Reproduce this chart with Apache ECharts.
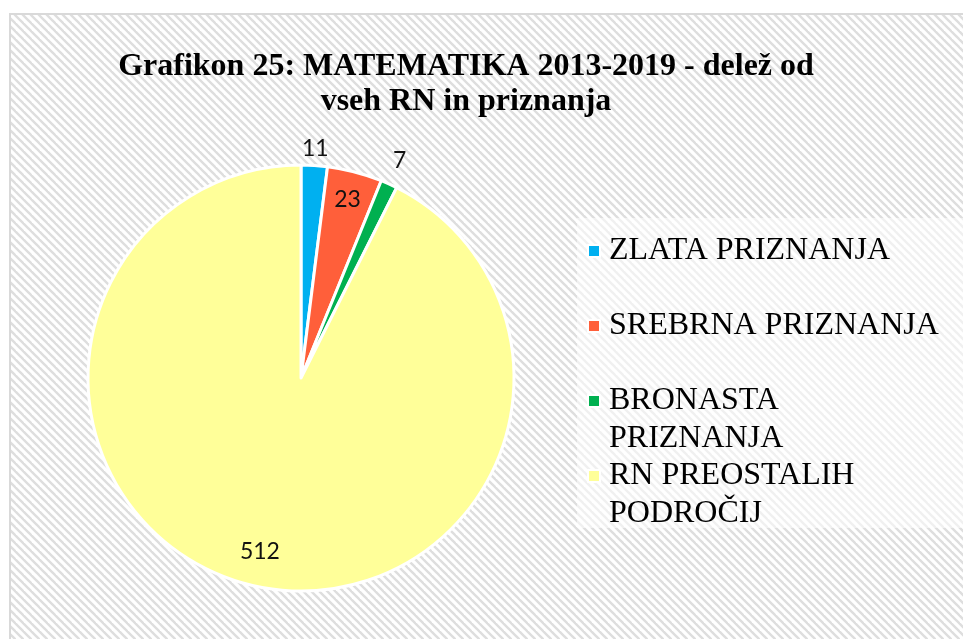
<!DOCTYPE html>
<html>
<head>
<meta charset="utf-8">
<title>Grafikon 25</title>
<script src="https://cdn.jsdelivr.net/npm/echarts@6/dist/echarts.min.js"></script>
<style>
  html, body { margin: 0; padding: 0; background: #fff; }
  #chart { width: 963px; height: 639px; }
</style>
</head>
<body>
<div id="chart"></div>
<script>
(function(window, document, undefined){

  // data
  var categories = ['ZLATA PRIZNANJA', 'SREBRNA PRIZNANJA', 'BRONASTA PRIZNANJA', 'RN PREOSTALIH PODROČIJ'];
  var values = [11, 23, 7, 512];
  var legendText = ['ZLATA PRIZNANJA', 'SREBRNA PRIZNANJA', 'BRONASTA\nPRIZNANJA', 'RN PREOSTALIH\nPODROČIJ'];

  var colors = ['#00B0F0', '#FF5F3A', '#00B050', '#FFFF99'];
  // how far each value label sits from the rim (negative = inside the slice)
  var labelReach = [17, -29, 26, -35];

  // diagonal hatch used by excel for the chart area
  function hatch() {
    var c = document.createElement('canvas');
    c.width = 8; c.height = 8;
    var ctx = c.getContext('2d');
    ctx.fillStyle = '#ffffff';
    ctx.fillRect(0, 0, 8, 8);
    ctx.strokeStyle = '#dedede';
    ctx.lineWidth = 2.4;
    for (var k = -8; k <= 8; k += 8) {
      ctx.beginPath();
      ctx.moveTo(-2, -2 + k);
      ctx.lineTo(10, 10 + k);
      ctx.stroke();
    }
    return c;
  }

  var pieData = categories.map(function(name, i){
    return {
      name: name,
      value: values[i],
      itemStyle: { color: colors[i] },
      labelLine: { length: labelReach[i] }
    };
  });

  // every legend entry is 3 lines tall so the icon (centred) lines up
  // with the first line of text, like excel does it
  function legendLabel(name) {
    var t = legendText[categories.indexOf(name)];
    return t.indexOf('\n') >= 0 ? '\n' + t : '\n' + t + '\n';
  }

  var option = {
    animation: false,
    backgroundColor: '#ffffff',
    graphic: [
      {
        type: 'rect',
        z: 0,
        shape: { x: 10, y: 14, width: 970, height: 640 },
        style: { fill: { image: hatch(), repeat: 'repeat' }, stroke: '#d9d9d9', lineWidth: 2 }
      },
      {
        type: 'rect',
        z: 1,
        shape: { x: 577, y: 218, width: 400, height: 310 },
        style: { fill: 'rgba(255,255,255,0.55)' }
      }
    ],
    title: {
      text: 'Grafikon 25: MATEMATIKA 2013-2019 - delež od\nvseh RN in priznanja',
      left: 466,
      top: 49,
      padding: 0,
      textAlign: 'center',
      textStyle: {
        fontFamily: '"Liberation Serif", "Times New Roman", serif',
        fontWeight: 'bold',
        fontSize: 32,
        lineHeight: 35,
        color: '#000'
      }
    },
    legend: {
      orient: 'vertical',
      left: 587,
      top: 194,
      padding: 0,
      itemGap: -39,
      icon: 'rect',
      itemWidth: 12,
      itemHeight: 12,
      data: categories,
      formatter: legendLabel,
      textStyle: {
        fontFamily: '"Liberation Serif", "Times New Roman", serif',
        fontSize: 32,
        lineHeight: 38,
        padding: [0, 0, 0, 4],
        color: '#000'
      }
    },
    series: [
      {
        type: 'pie',
        center: [301, 378],
        radius: 213,
        startAngle: 90,
        clockwise: true,
        avoidLabelOverlap: false,
        emphasis: { scale: false },
        itemStyle: { borderColor: '#ffffff', borderWidth: 3 },
        label: {
          show: true,
          position: 'outside',
          distanceToLabelLine: 0,
          formatter: '{c}',
          fontFamily: 'Lato, "Open Sans", sans-serif',
          fontSize: 23,
          color: '#111'
        },
        labelLine: { show: false, length2: 0 },
        labelLayout: function() {
          return { align: 'center' };
        },
        data: pieData
      }
    ]
  };

  var chart = echarts.init(document.getElementById('chart'), null, { renderer: 'canvas' });
  chart.setOption(option);

})(window, document);
</script>
</body>
</html>
